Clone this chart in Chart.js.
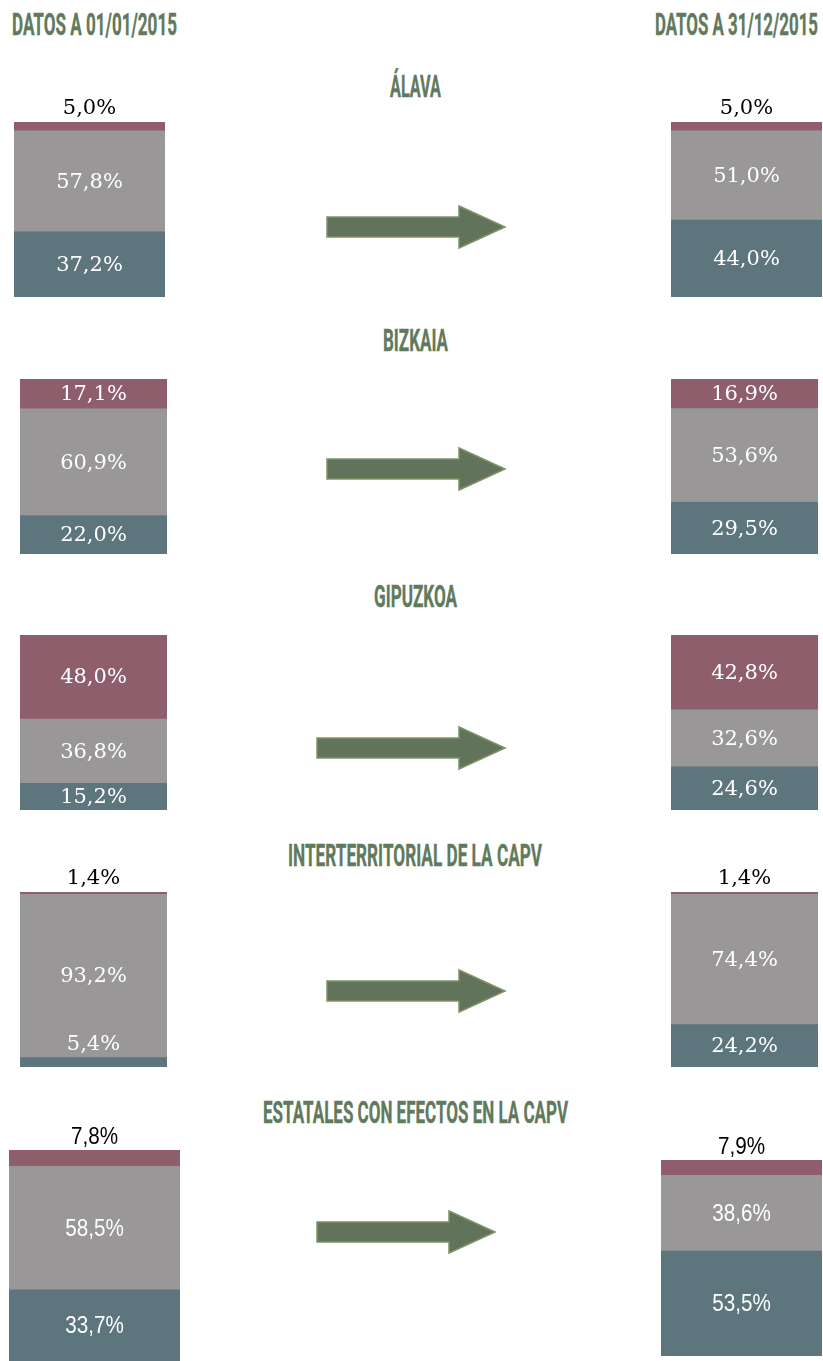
<!DOCTYPE html>
<html>
<head>
<meta charset="utf-8">
<script src="https://cdn.jsdelivr.net/npm/chart.js@4.4.0/dist/chart.umd.min.js"></script>
<style>
  html,body{margin:0;padding:0;background:#fff;}
  #wrap{position:relative;width:823px;height:1361px;overflow:hidden;}
  .h{position:absolute;white-space:nowrap;font-family:Roboto,"DejaVu Sans",sans-serif;font-weight:700;font-size:32px;line-height:32px;color:#5f7a5c;-webkit-text-stroke:0.4px #5f7a5c;transform-origin:0 0;display:inline-block;}
  canvas.bar{position:absolute;}
  svg{position:absolute;left:0;top:0;}
</style>
</head>
<body>
<div id="wrap"></div>
<script>
// ---- data ----
const cabeceras = ['DATOS A 01/01/2015', 'DATOS A 31/12/2015'];
const territorios = ['ÁLAVA', 'BIZKAIA', 'GIPUZKOA', 'INTERTERRITORIAL DE LA CAPV', 'ESTATALES CON EFECTOS EN LA CAPV'];
const inicioAzul    = [37.2, 22.0, 15.2, 5.4, 33.7];
const inicioGris    = [57.8, 60.9, 36.8, 93.2, 58.5];
const inicioGranate = [5.0, 17.1, 48.0, 1.4, 7.8];
const finAzul       = [44.0, 29.5, 24.6, 24.2, 53.5];
const finGris       = [51.0, 53.6, 32.6, 74.4, 38.6];
const finGranate    = [5.0, 16.9, 42.8, 1.4, 7.9];

// ---- styles / layout ----
const AZUL = '#5d757d', GRIS = '#999798', GRANATE = '#8f5e6c';
const layoutBarras = [
  {l:[14,165,122,297],  r:[671,822,122,297]},
  {l:[20,167,379,554],  r:[671,818,379,554]},
  {l:[20,167,635,810],  r:[671,818,635,810]},
  {l:[20,167,892,1067], r:[671,818,892,1067]},
  {l:[9,180,1150,1361], r:[661,822,1160,1356]}
];
const layoutFlechas = [[327,505,227],[327,505,469],[317,505,748],[327,505,991],[317,495,1232]];
const layoutTitulos = [[390,51,97],[383,65,351],[374,83,607],[288,254,866],[263,305,1123]];
const layoutCabeceras = [[12,165,35],[655,163,35]];

const wrap = document.getElementById('wrap');

function heading(text, x0, w, baseline){
  const d = document.createElement('div');
  d.className = 'h';
  d.textContent = text;
  d.style.left = x0 + 'px';
  d.style.top = (baseline - 27) + 'px';
  wrap.appendChild(d);
  const m = d.getBoundingClientRect().width;
  d.style.transform = 'scaleX(' + (w / m) + ')';
}
cabeceras.forEach((t,i)=>heading(t, ...layoutCabeceras[i]));
territorios.forEach((t,i)=>heading(t, ...layoutTitulos[i]));

// arrows
const NS = 'http://www.w3.org/2000/svg';
const svg = document.createElementNS(NS,'svg');
svg.setAttribute('width','823'); svg.setAttribute('height','1361');
layoutFlechas.forEach(([x0,x1,cy])=>{
  const hx = x1 - 46;
  const p = document.createElementNS(NS,'polygon');
  p.setAttribute('points', `${x0},${cy-10} ${hx},${cy-10} ${hx},${cy-21} ${x1},${cy} ${hx},${cy+21} ${hx},${cy+10} ${x0},${cy+10}`);
  p.setAttribute('fill','#61735a');
  p.setAttribute('stroke','#7f9266');
  p.setAttribute('stroke-width','1.5');
  svg.appendChild(p);
});
wrap.appendChild(svg);

const fmt = v => v.toFixed(1).replace('.', ',') + '%';

const etiquetas = {
  id: 'etiquetas',
  afterDatasetsDraw(chart){
    const ctx = chart.ctx;
    const cond = chart.options.plugins.etiquetas.condensado;
    chart.data.datasets.forEach((ds, i) => {
      const el = chart.getDatasetMeta(i).data[0];
      const top = Math.min(el.y, el.base), bot = Math.max(el.y, el.base);
      const h = bot - top;
      let y = (top + bot) / 2, color = '#ffffff';
      if (h < 20) { y = top - 14; if (i === 2) color = '#000000'; }
      ctx.save();
      ctx.fillStyle = color;
      ctx.textAlign = 'center';
      ctx.textBaseline = 'middle';
      ctx.translate(el.x, y);
      if (cond) { ctx.font = '24px "Liberation Sans", Arial, sans-serif'; ctx.scale(0.86, 1); }
      else { ctx.font = '21px "DejaVu Serif", serif'; }
      ctx.fillText(fmt(ds.data[0]), 0, 1);
      ctx.restore();
    });
  }
};

function barra(box, azul, gris, granate, condensado){
  const [x0,x1,top,bottom] = box;
  const pad = 32;
  const c = document.createElement('canvas');
  c.className = 'bar';
  c.width = x1 - x0; c.height = bottom - top + pad;
  c.style.left = x0 + 'px'; c.style.top = (top - pad) + 'px';
  c.style.width = (x1 - x0) + 'px'; c.style.height = (bottom - top + pad) + 'px';
  wrap.appendChild(c);
  new Chart(c, {
    type: 'bar',
    data: {
      labels: [''],
      datasets: [
        {data: [azul], backgroundColor: AZUL},
        {data: [gris], backgroundColor: GRIS},
        {data: [granate], backgroundColor: GRANATE}
      ]
    },
    options: {
      responsive: false, animation: false, devicePixelRatio: 1,
      layout: {padding: {top: pad, left: 0, right: 0, bottom: 0}},
      datasets: {bar: {barPercentage: 1, categoryPercentage: 1, borderWidth: 0}},
      plugins: {legend: {display: false}, tooltip: {enabled: false}, etiquetas: {condensado}},
      scales: {
        x: {display: false, stacked: true},
        y: {display: false, stacked: true, min: 0, max: 100}
      }
    },
    plugins: [etiquetas]
  });
}

territorios.forEach((t, i) => {
  const cond = i === 4;
  barra(layoutBarras[i].l, inicioAzul[i], inicioGris[i], inicioGranate[i], cond);
  barra(layoutBarras[i].r, finAzul[i], finGris[i], finGranate[i], cond);
});
</script>
</body>
</html>
